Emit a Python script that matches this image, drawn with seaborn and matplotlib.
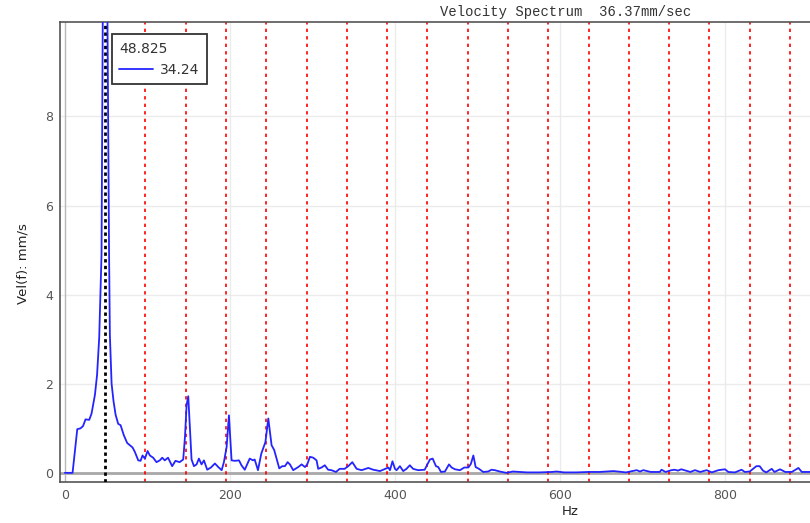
import pandas as pd
import matplotlib
matplotlib.use("Agg")
import matplotlib.pyplot as plt
import seaborn as sns

# ---- data ----
run_speed = 48.825          # 1x running speed, Hz
peak_value = 34.24          # amplitude at 1x, mm/s
overall = "36.37mm/sec"
harmonics = list(range(2, 19))

freq = [0, 9.3, 15, 19, 22, 25, 29.5, 32.3, 36.4, 39, 41.6, 44.4, 46.4, 48.825,
        51.3, 53.5, 54.5, 56.6, 59, 61.5, 64.6, 67.5, 71.5, 75.5, 78.8, 82, 84.8,
        88.9, 91.7, 94.1, 97, 100.2, 103, 107, 111, 115, 118, 121, 125, 130, 134,
        139, 143.4, 145.5, 147.5, 149.5, 151.5, 153.5, 156.4, 159.6, 162.4, 165.6,
        168.5, 172.5, 177, 181.8, 185.9, 190, 192.7, 196, 198.8, 202, 206, 211,
        214, 218, 224, 228, 230, 234, 238, 243, 246.5, 250.5, 253.7, 256.5, 259.8,
        263.4, 266.7, 269.9, 272.7, 276.7, 282.8, 286.9, 291, 293.7, 297, 301,
        305, 307, 311, 315, 319, 323, 328.5, 333, 339, 343.4, 348.3, 353.6, 359.6,
        367.7, 373.7, 381.8, 385.8, 392, 394, 397, 400, 402, 406, 410, 414, 418,
        422, 428, 436, 442.4, 445.7, 449.7, 452.5, 455.8, 460.6, 465.5, 468.7,
        472.7, 478.8, 484, 488.9, 492, 495, 497.8, 501.8, 507, 513, 517, 521, 527,
        535, 543, 551, 560, 575, 590, 596, 605, 620, 635, 648, 665, 680, 693, 697,
        701, 710, 721, 723, 728, 735, 739, 743, 747, 752.7, 758, 763.6, 770, 777.8,
        784, 792, 800, 804, 812, 820, 824, 830, 838, 842, 846, 850, 856.6, 860,
        866.7, 873, 881, 889, 893, 903]
vel = [0, 0, 0.98, 1.0, 1.05, 1.2, 1.19, 1.33, 1.75, 2.2, 3.04, 4.9, 12.0, 34.24,
       11.0, 5.0, 3.1, 2.0, 1.6, 1.3, 1.1, 1.07, 0.84, 0.67, 0.62, 0.57, 0.47,
       0.28, 0.27, 0.39, 0.32, 0.49, 0.39, 0.34, 0.24, 0.28, 0.34, 0.28, 0.34, 0.15, 0.27,
       0.24, 0.3, 0.8, 1.52, 1.72, 1.03, 0.3, 0.15, 0.19, 0.32, 0.19,
       0.28, 0.07, 0.12, 0.21, 0.13, 0.06, 0.24, 0.58, 1.29, 0.28, 0.27, 0.28,
       0.17, 0.07, 0.32, 0.28, 0.3, 0.06, 0.43, 0.69, 1.22, 0.62, 0.51, 0.32, 0.1,
       0.15, 0.15, 0.24, 0.19, 0.06, 0.13, 0.19, 0.13, 0.19, 0.36, 0.34,
       0.28, 0.09, 0.12, 0.17, 0.07, 0.06, 0.02, 0.09, 0.09, 0.15, 0.24, 0.09, 0.06,
       0.11, 0.07, 0.04, 0.07, 0.12, 0.06, 0.26, 0.09, 0.06, 0.15, 0.04, 0.09, 0.17,
       0.09, 0.06, 0.07, 0.3, 0.32, 0.15, 0.13, 0.02, 0.03, 0.19, 0.12,
       0.08, 0.06, 0.12, 0.12, 0.2, 0.39, 0.13, 0.09, 0.02, 0.03, 0.07, 0.06, 0.03,
       0.0, 0.03, 0.02, 0.01, 0.01, 0.02, 0.03, 0.01, 0.01, 0.02, 0.02, 0.04, 0.01, 0.06, 0.03,
       0.06, 0.02, 0.02, 0.07, 0.02, 0.06, 0.07, 0.05, 0.08, 0.05, 0.02, 0.06, 0.02, 0.06,
       0.01, 0.06, 0.08, 0.02, 0.01, 0.07, 0.02, 0.03, 0.15, 0.15, 0.05, 0.01, 0.09, 0.02,
       0.08, 0.02, 0.02, 0.11, 0.02, 0.02]

x_ticks = [0, 200, 400, 600, 800]
y_ticks = [0, 2, 4, 6, 8]

df = pd.DataFrame({"Hz": freq, "vel": vel})

sns.set_theme(style="white")
plt.rcParams["font.family"] = ["DejaVu Sans"]

fig = plt.figure(figsize=(8.1, 5.23), dpi=100)
ax = fig.add_axes([0.074, 0.078, 0.926, 0.880])

# grid
for t in y_ticks[1:]:
    ax.axhline(t, color="#ebebeb", lw=1, zorder=0)
for t in x_ticks[1:]:
    ax.axvline(t, color="#ebebeb", lw=1, zorder=0)
ax.axhline(0, color="#a8a8a8", lw=2, zorder=1)
ax.axvline(0, color="#b8b8b8", lw=1, zorder=1)

# harmonic markers
for k in harmonics:
    ax.axvline(k * run_speed, color="red", lw=1.2, ls=(0, (2, 2.5)), zorder=2)

sns.lineplot(data=df, x="Hz", y="vel", ax=ax, color="#2424ff", lw=1.3,
             estimator=None, sort=False, zorder=3, label=f"{peak_value:.2f}")

ax.axvline(run_speed, color="black", lw=2, ls=(0, (1.2, 1.2)), zorder=4)

ax.set_xlim(-6, 903)
ax.set_ylim(-0.21, 10.12)
ax.set_xticks(x_ticks)
ax.set_yticks(y_ticks)
ax.tick_params(length=0, labelsize=9, labelcolor="#555555", pad=5)

ax.set_xlabel("Hz", fontsize=9.5, color="#222222")
ax.set_ylabel("Vel(f): mm/s", fontsize=9.5, color="#222222")
ax.xaxis.set_label_coords(0.68, -0.05)
ax.yaxis.set_label_coords(-0.04, 0.476)

for side in ["left", "top", "bottom"]:
    ax.spines[side].set_color("#555555")
    ax.spines[side].set_linewidth(1.2)
ax.spines["right"].set_visible(False)

leg = ax.legend(title=f"{run_speed}", loc="upper left",
                bbox_to_anchor=(0.069, 0.974), borderaxespad=0,
                fancybox=False, framealpha=1, edgecolor="#333333",
                fontsize=10, title_fontsize=10, handlelength=2.4,
                handletextpad=0.5, alignment="left", borderpad=0.55)
leg.get_frame().set_linewidth(1.3)
for txt in leg.get_texts():
    txt.set_color("#333333")
leg.get_title().set_color("#333333")

fig.text(0.698, 0.978, f"Velocity Spectrum  {overall}", ha="center", va="center",
         family="Liberation Mono", fontsize=10, color="#333333")

fig.savefig("out.png", dpi=100)
